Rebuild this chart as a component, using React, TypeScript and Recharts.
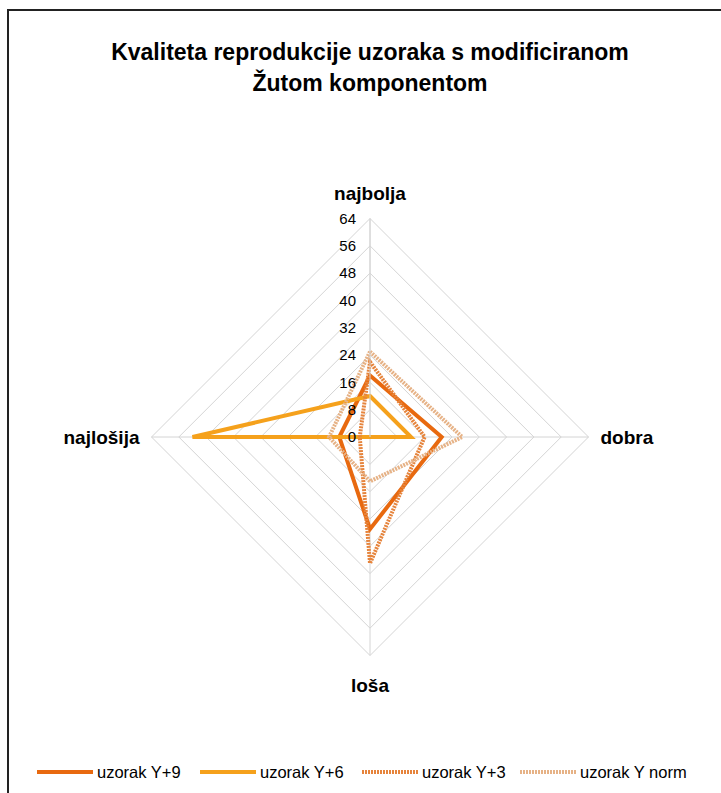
import React from 'react';
import { RadarChart, Radar, PolarGrid, PolarAngleAxis, PolarRadiusAxis, Legend } from 'recharts';

// kategorije (smjer kazaljke od vrha)
const categories = ['najbolja', 'dobra', 'loša', 'najlošija'];

const uzorakY9 = [18, 21, 27, 9];
const uzorakY6 = [12, 12, 0, 52];
const uzorakY3 = [22, 16, 37, 3];
const uzorakYnorm = [25, 27, 13, 12];

const radiusTicks = [0, 8, 16, 24, 32, 40, 48, 56, 64];

const series = [
  { key: 'y9', name: 'uzorak Y+9', color: '#E8690F', dash: undefined },
  { key: 'y6', name: 'uzorak Y+6', color: '#F5A11C', dash: undefined },
  { key: 'y3', name: 'uzorak Y+3', color: '#E6843C', dash: '2 1' },
  { key: 'yn', name: 'uzorak Y norm', color: '#E6B286', dash: '2 1' },
];

const data = categories.map((c, i) => ({
  kategorija: c,
  y9: uzorakY9[i],
  y6: uzorakY6[i],
  y3: uzorakY3[i],
  yn: uzorakYnorm[i],
}));

const FONT = '"Liberation Sans", Arial, sans-serif';

const AngleTick = (props: any) => {
  const { x, y, payload } = props;
  const v = payload.value;
  let tx = x;
  let ty = y;
  let anchor = 'middle';
  if (v === 'najbolja') {
    ty = y - 11;
  } else if (v === 'dobra') {
    tx = x + 4;
    ty = y + 7;
    anchor = 'start';
  } else if (v === 'loša') {
    ty = y + 28;
  } else {
    tx = x - 4;
    ty = y + 7;
    anchor = 'end';
  }
  return (
    <text x={tx} y={ty} textAnchor={anchor} fontFamily={FONT} fontWeight="bold" fontSize={19} fill="#000">
      {v}
    </text>
  );
};

const RadiusTick = (props: any) => {
  const { x, y, payload } = props;
  return (
    <text x={x - 14} y={y} dy="0.35em" textAnchor="end" fontFamily={FONT} fontSize={15} fill="#000">
      {payload.value}
    </text>
  );
};

const LegendContent = () => {
  const xs = [37, 200, 362, 520];
  return (
    <svg width={721} height={26} style={{ display: 'block' }}>
      {series.map((s, i) => (
        <g key={s.key}>
          <line x1={xs[i]} x2={xs[i] + 56} y1={12} y2={12} stroke={s.color} strokeWidth={4} strokeDasharray={s.dash} />
          <text x={xs[i] + 60} y={18} fontFamily={FONT} fontSize={16.5} fill="#000">
            {s.name}
          </text>
        </g>
      ))}
    </svg>
  );
};

export default function App() {
  return (
    <div style={{ position: 'absolute', left: 0, top: 0, width: 721, height: 793, background: '#fff', overflow: 'hidden' }}>
      <div
        style={{
          position: 'absolute',
          left: 7,
          top: 9,
          width: 721,
          height: 800,
          borderTop: '2px solid #222',
          borderLeft: '2px solid #222',
        }}
      />
      <div
        style={{
          position: 'absolute',
          left: 0,
          top: 37,
          width: 740,
          textAlign: 'center',
          fontFamily: FONT,
          fontWeight: 'bold',
          fontSize: 23,
          lineHeight: '31px',
        }}
      >
        Kvaliteta reprodukcije uzoraka s modificiranom
        <br />
        Žutom komponentom
      </div>
      <div style={{ position: 'absolute', left: 0, top: 0 }}>
        <RadarChart
          width={721}
          height={793}
          data={data}
          cx={370}
          cy={437}
          outerRadius={218.5}
          startAngle={90}
          endAngle={-270}
          margin={{ top: 0, right: 0, bottom: 0, left: 0 }}
        >
          <PolarGrid gridType="polygon" stroke="#D4D4D4" strokeWidth={1} />
          <PolarAngleAxis dataKey="kategorija" tick={AngleTick} axisLine={false} tickLine={false} />
          <PolarRadiusAxis
            angle={90}
            domain={[0, 64]}
            ticks={radiusTicks as any}
            tickCount={9}
            tick={RadiusTick}
            axisLine={{ stroke: '#D4D4D4' }}
            tickLine={false}
          />
          {series.map((s) => (
            <Radar
              key={s.key}
              dataKey={s.key}
              name={s.name}
              stroke={s.color}
              strokeWidth={4}
              strokeDasharray={s.dash}
              fill="none"
              fillOpacity={0}
              isAnimationActive={false}
              dot={false}
            />
          ))}
          <Legend
            content={<LegendContent />}
            wrapperStyle={{ position: 'absolute', left: 0, top: 760, width: 721 }}
          />
        </RadarChart>
      </div>
    </div>
  );
}
